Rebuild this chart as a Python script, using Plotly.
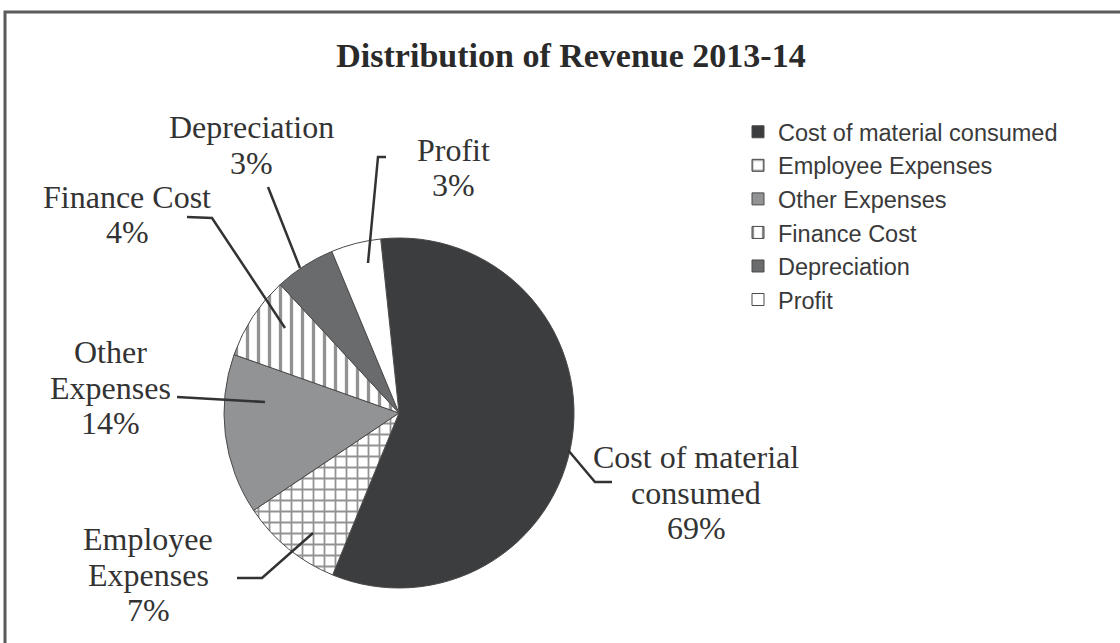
import plotly.graph_objects as go

W, H = 1120, 643

# ---- data ----
categories = ["Cost of material consumed", "Employee Expenses", "Other Expenses",
              "Finance Cost", "Depreciation", "Profit"]
slice_share = [57.8, 9.4, 14.8, 7.7, 5.6, 4.6]      # share as drawn in the picture
label_pct = [69, 7, 14, 4, 3, 3]                     # percentages printed on the labels
label_lines = [["Cost of material", "consumed"], ["Employee", "Expenses"],
               ["Other", "Expenses"], ["Finance Cost"], ["Depreciation"], ["Profit"]]

# ---- styles ----
fill_colors = ["#3c3d3f", "#ffffff", "#929395", "#ffffff", "#6a6b6d", "#ffffff"]
pattern_shapes = ["", "+", "", "|", "", ""]
ink = "#333333"

# label layout (pixel positions of first text line centre) and leader lines
label_pos = [(696, 457), (148, 539), (110, 352), (127, 197), (251, 127), (453, 150)]
line_gap = 35.5
leaders = [
    [(568, 450), (595, 482), (612, 482)],
    [(313, 533), (262, 578), (237, 578)],
    [(265, 402), (177, 397)],
    [(285, 328), (212, 218), (187, 217)],
    [(300, 268), (268, 187)],
    [(368, 263), (378, 157), (386, 157)],
]


def px(x):
    return x / W


def py(y):
    return 1 - y / H


cx, cy, r = 399, 413, 175

fig = go.Figure(go.Pie(
    labels=categories,
    values=slice_share,
    sort=False,
    direction="clockwise",
    rotation=-6,
    textinfo="none",
    hoverinfo="label",
    domain=dict(x=[px(cx - r), px(cx + r)], y=[py(cy + r), py(cy - r)]),
    marker=dict(
        colors=fill_colors,
        line=dict(color="#4a4a4a", width=1),
        pattern=dict(shape=pattern_shapes, fgcolor="#262626", bgcolor=fill_colors,
                     size=11, solidity=0.3, fillmode="overlay"),
    ),
))

annotations = []
for lines, pct, (x0, y0) in zip(label_lines, label_pct, label_pos):
    for i, t in enumerate(lines + [f"{pct}%"]):
        annotations.append(dict(
            x=px(x0), y=py(y0 + i * line_gap), xref="paper", yref="paper",
            text=t, showarrow=False, xanchor="center", yanchor="middle",
            font=dict(family="Liberation Serif", size=32, color=ink),
        ))

shapes = []
for pts in leaders:
    path = "M " + " L ".join(f"{px(x)},{py(y)}" for x, y in pts)
    shapes.append(dict(type="path", xref="paper", yref="paper", path=path,
                       line=dict(color=ink, width=2.5)))
# outer frame
shapes.append(dict(type="rect", xref="paper", yref="paper",
                   x0=px(5), x1=px(1135), y0=py(660), y1=py(12),
                   line=dict(color="#5a5a5a", width=3)))

fig.update_layout(
    width=W, height=H,
    margin=dict(l=0, r=0, t=0, b=0),
    paper_bgcolor="white", plot_bgcolor="white",
    title=dict(text="<b>Distribution of Revenue 2013-14</b>", x=px(571), xanchor="center",
               y=py(55), yanchor="middle",
               font=dict(family="Liberation Serif", size=34, color="#2a2a2a")),
    showlegend=True,
    legend=dict(x=px(738), y=py(110), xanchor="left", yanchor="top",
                font=dict(family="Liberation Sans", size=23.5, color="#3a3a3a"),
                bgcolor="rgba(0,0,0,0)"),
    annotations=annotations,
    shapes=shapes,
)

fig.write_html("out.html", config={"displayModeBar": False},
               post_script="document.body.style.margin='0';")
